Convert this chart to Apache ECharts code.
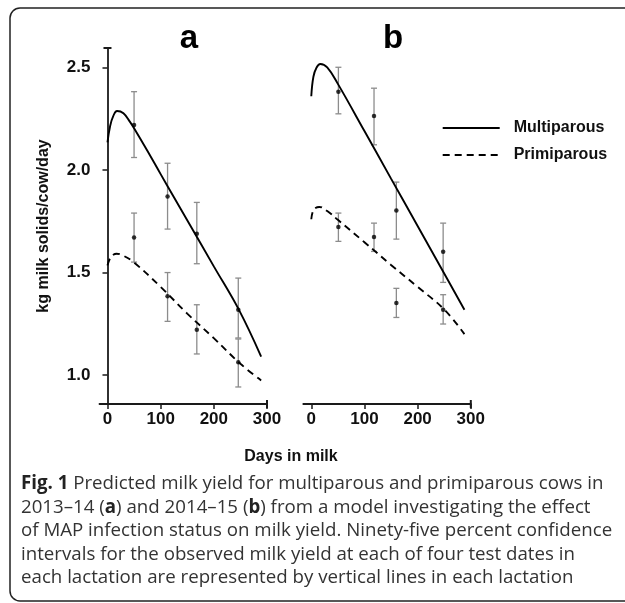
<!DOCTYPE html>
<html>
<head>
<meta charset="utf-8">
<script src="https://cdn.jsdelivr.net/npm/echarts@6/dist/echarts.min.js"></script>
<style>
  html, body { margin: 0; padding: 0; background: #fff; }
  #chart { width: 625px; height: 603px; }
</style>
</head>
<body>
<div id="chart"></div>
<script>
// 曲线数据
const multiDaysA = [0, 5, 11, 18, 30, 42, 50, 75, 100, 125, 150, 200, 247, 289];
const multiYieldA = [2.135, 2.215, 2.264, 2.288, 2.277, 2.236, 2.204, 2.094, 1.98, 1.867, 1.755, 1.53, 1.319, 1.09];
const primiDaysA = [0, 5, 11, 17, 30, 50, 100, 150, 200, 250, 289];
const primiYieldA = [1.535, 1.57, 1.587, 1.592, 1.582, 1.549, 1.43, 1.3, 1.18, 1.055, 0.974];

const multiDaysB = [0, 4, 10, 17, 30, 50, 100, 150, 200, 250, 288];
const multiYieldB = [2.36, 2.455, 2.5, 2.517, 2.5, 2.42, 2.19, 1.958, 1.727, 1.495, 1.319];
const primiDaysB = [0, 3, 8, 15, 30, 50, 100, 150, 200, 250, 288];
const primiYieldB = [1.76, 1.798, 1.815, 1.82, 1.8, 1.757, 1.648, 1.537, 1.43, 1.32, 1.2];

// 观测值与95%置信区间
const testDaysA = [50, 113, 168, 246];
const multiObsA = [2.22, 1.871, 1.689, 1.319];
const multiLowA = [2.061, 1.712, 1.543, 1.181];
const multiHighA = [2.382, 2.033, 1.842, 1.473];
const primiObsA = [1.671, 1.384, 1.221, 1.062];
const primiLowA = [1.551, 1.262, 1.103, 0.942];
const primiHighA = [1.79, 1.5, 1.343, 1.176];

const testDaysB = [51, 118, 160, 248];
const multiObsB = [2.382, 2.264, 1.802, 1.601];
const multiLowB = [2.274, 2.123, 1.663, 1.452];
const multiHighB = [2.501, 2.399, 1.941, 1.741];
const primiObsB = [1.722, 1.673, 1.351, 1.319];
const primiLowB = [1.652, 1.603, 1.281, 1.249];
const primiHighB = [1.79, 1.741, 1.423, 1.392];

const xTicks = [0, 100, 200, 300];
const yTicks = [1.0, 1.5, 2.0, 2.5];

const captionLines = [
  '{b|Fig. 1} Predicted milk yield for multiparous and primiparous cows in',
  '2013–14 ({b|a}) and 2014–15 ({b|b}) from a model investigating the effect',
  'of MAP infection status on milk yield. Ninety-five percent confidence',
  'intervals for the observed milk yield at each of four test dates in',
  'each lactation are represented by vertical lines in each lactation'
];

const zip = (xs, ys) => xs.map((x, i) => [x, ys[i]]);
const zip3 = (xs, lo, hi) => xs.map((x, i) => [x, lo[i], hi[i]]);

const axisColor = '#1a1a1a';
const labelFont = { fontSize: 17, fontWeight: 'bold', color: '#111', fontFamily: 'Liberation Sans' };

function xAxisFor(gridIndex) {
  return {
    type: 'value', gridIndex, min: -15, max: 300,
    axisLine: { show: true, symbol: ['none', 'rect'], symbolSize: [8, 2], lineStyle: { color: axisColor, width: 1.8 } },
    axisTick: { show: true, customValues: xTicks, length: 5, lineStyle: { color: axisColor, width: 1.5 } },
    axisLabel: Object.assign({ customValues: xTicks, margin: 7 }, labelFont),
    splitLine: { show: false }
  };
}

function yAxisFor(gridIndex, visible) {
  return {
    type: 'value', gridIndex, min: 0.859, max: 2.595, show: visible,
    name: visible ? 'kg milk solids/cow/day' : '',
    nameLocation: 'middle', nameGap: 48, nameRotate: 90,
    nameTextStyle: { fontSize: 16, fontWeight: 'bold', color: '#111', fontFamily: 'Liberation Sans' },
    axisLine: { show: true, symbol: ['none', 'rect'], symbolSize: [8, 2], lineStyle: { color: axisColor, width: 1.8 } },
    axisTick: { show: true, customValues: yTicks, length: 5, lineStyle: { color: axisColor, width: 1.5 } },
    axisLabel: Object.assign({ customValues: yTicks, margin: 9, formatter: v => v.toFixed(1) }, labelFont),
    splitLine: { show: false }
  };
}

function curve(name, idx, data, dashed) {
  return {
    name, type: 'line', xAxisIndex: idx, yAxisIndex: idx, data,
    symbol: 'none', smooth: 0.4, silent: true,
    lineStyle: { color: '#000', width: 1.9, type: dashed ? [7, 5] : 'solid' }
  };
}

function errorBars(idx, data) {
  return {
    type: 'custom', xAxisIndex: idx, yAxisIndex: idx, data, silent: true,
    renderItem(params, api) {
      const top = api.coord([api.value(0), api.value(2)]);
      const bot = api.coord([api.value(0), api.value(1)]);
      const w = 3;
      const style = { stroke: '#8c8c8c', lineWidth: 1.3 };
      return {
        type: 'group',
        children: [
          { type: 'line', shape: { x1: top[0], y1: top[1], x2: bot[0], y2: bot[1] }, style },
          { type: 'line', shape: { x1: top[0] - w, y1: top[1], x2: top[0] + w, y2: top[1] }, style },
          { type: 'line', shape: { x1: bot[0] - w, y1: bot[1], x2: bot[0] + w, y2: bot[1] }, style }
        ]
      };
    }
  };
}

function points(idx, data) {
  return {
    type: 'scatter', xAxisIndex: idx, yAxisIndex: idx, data, silent: true,
    symbolSize: 4.5, itemStyle: { color: '#000' }, z: 5
  };
}

const chart = echarts.init(document.getElementById('chart'));

const option = {
  animation: false,
  textStyle: { fontFamily: 'Liberation Sans' },
  grid: [
    { left: 99.5, top: 48, width: 167.5, height: 356 },
    { left: 303.3, top: 48, width: 167.5, height: 356 }
  ],
  xAxis: [xAxisFor(0), xAxisFor(1)],
  yAxis: [yAxisFor(0, true), yAxisFor(1, false)],
  legend: {
    orient: 'vertical', left: 441.7, top: 120, padding: 0,
    itemWidth: 57, itemHeight: 14, itemGap: 11,
    data: ['Multiparous', 'Primiparous'],
    itemStyle: { opacity: 0 },
    textStyle: { fontSize: 16, fontWeight: 'bold', color: '#111', fontFamily: 'Liberation Sans', padding: [0, 0, 0, 9] },
    selectedMode: false
  },
  graphic: [
    // 外框
    { type: 'rect', shape: { x: 10, y: 8, width: 640, height: 593, r: 10 },
      style: { fill: 'none', stroke: '#222', lineWidth: 1.5 }, silent: true },
    { type: 'text', x: 189, y: 39, style: { text: 'a', font: 'bold 33px "Liberation Sans"', fill: '#000', align: 'center', verticalAlign: 'middle' } },
    { type: 'text', x: 393, y: 39, style: { text: 'b', font: 'bold 33px "Liberation Sans"', fill: '#000', align: 'center', verticalAlign: 'middle' } },
    { type: 'text', x: 291, y: 457, style: { text: 'Days in milk', font: 'bold 16px "Liberation Sans"', fill: '#111', align: 'center', verticalAlign: 'middle' } }
  ].concat(captionLines.map((t, i) => ({
    type: 'text', x: 21, y: 484 + i * 23.5,
    style: {
      text: t, fontSize: 18.7, fontFamily: 'Open Sans', fill: '#333', verticalAlign: 'middle',
      rich: { b: { fontSize: 18.7, fontFamily: 'Open Sans', fontWeight: 'bold', fill: '#222' } }
    }
  }))),
  series: [
    curve('Multiparous', 0, zip(multiDaysA, multiYieldA), false),
    curve('Primiparous', 0, zip(primiDaysA, primiYieldA), true),
    curve('Multiparous', 1, zip(multiDaysB, multiYieldB), false),
    curve('Primiparous', 1, zip(primiDaysB, primiYieldB), true),
    errorBars(0, zip3(testDaysA, multiLowA, multiHighA)),
    errorBars(0, zip3(testDaysA, primiLowA, primiHighA)),
    errorBars(1, zip3(testDaysB, multiLowB, multiHighB)),
    errorBars(1, zip3(testDaysB, primiLowB, primiHighB)),
    points(0, zip(testDaysA, multiObsA)),
    points(0, zip(testDaysA, primiObsA)),
    points(1, zip(testDaysB, multiObsB)),
    points(1, zip(testDaysB, primiObsB))
  ]
};

chart.setOption(option);
window.addEventListener('resize', () => chart.resize());
</script>
</body>
</html>
